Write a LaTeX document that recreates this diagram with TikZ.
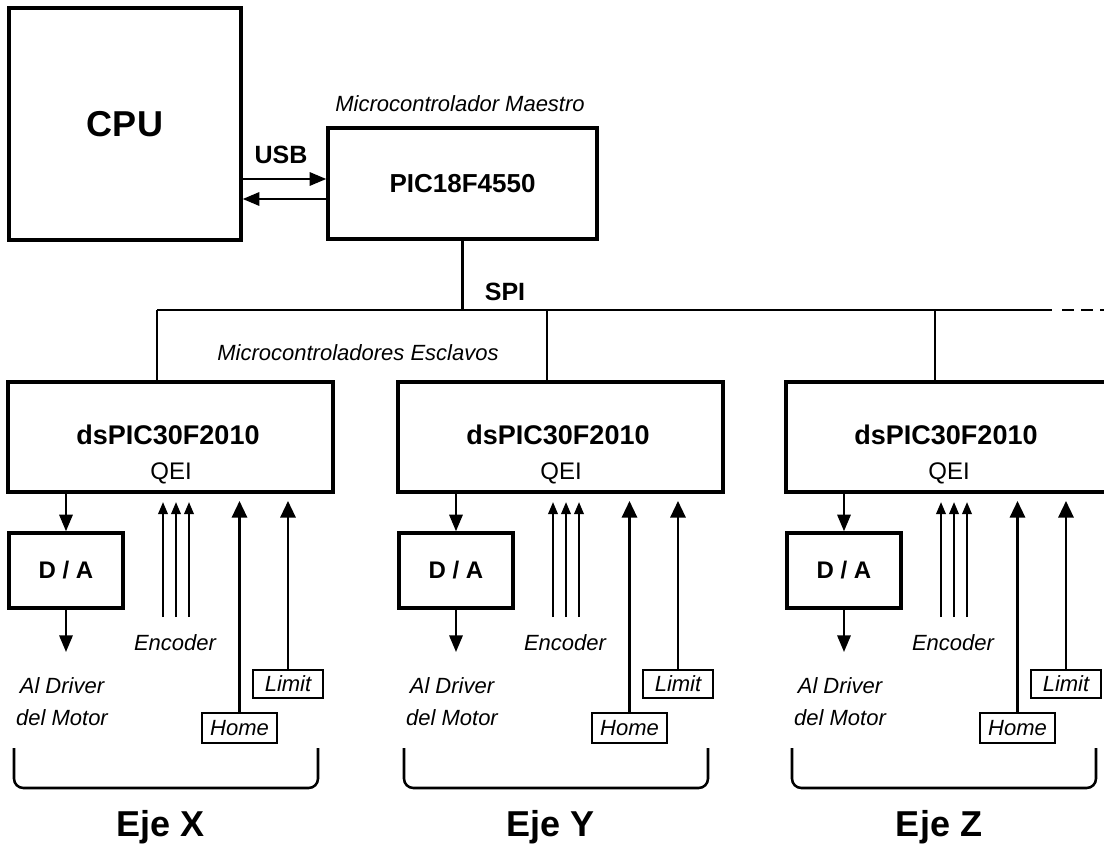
\documentclass[tikz,border=0pt]{standalone}
\usepackage{fontspec}
\setmainfont{Liberation Sans}
\usetikzlibrary{arrows.meta}
\newcommand{\fz}[1]{\fontsize{#1}{#1}\selectfont}
\begin{document}
\begin{tikzpicture}[x=0.75pt,y=-0.75pt,
  box/.style={draw, line width=2.6pt, inner sep=0pt},
  con/.style={line width=1.7pt},
  arr/.style={con, -{Triangle[length=12.5pt,width=10pt]}},
  arrb/.style={con, -{Triangle[length=12.5pt,width=11.5pt]}},
  arrs/.style={con, -{Triangle[length=9pt,width=7pt]}},
  tag/.style={draw, line width=1.6pt, inner sep=0pt, font=\fz{16.5}\itshape},
  ital/.style={font=\fz{16.5}\itshape, inner sep=0pt},
  bold/.style={font=\fz{18.75}\bfseries, inner sep=0pt},
  brace/.style={line width=1.9pt, rounded corners=7pt}]
\useasboundingbox (0,0) rectangle (1104,845);
\clip (0,0) rectangle (1104,845);

% CPU and master
\node[box, minimum width=232*0.75pt, minimum height=232*0.75pt, font=\fz{27}\bfseries] (cpu) at (125,124) {CPU};
\node[box, minimum width=269*0.75pt, minimum height=111*0.75pt, font=\fz{19.5}\bfseries] (pic) at (462.5,183.5) {PIC18F4550};
\node[ital] (mlab) at (460,104) {Microcontrolador Maestro};
\node[bold] (usb) at (281,155) {USB};
\coordinate (u1) at (0,179);
\coordinate (u2) at (0,199);
\draw[arr] (cpu.east |- u1) -- (pic.west |- u1);
\draw[arr] (pic.west |- u2) -- (cpu.east |- u2);

% SPI bus
\coordinate (busL) at (157,310);
\coordinate (busR) at (1052,310);
\coordinate (busD) at (1062,310);
\coordinate (busE) at (1106,310);
\draw[con] (pic.south) -- (pic.south |- busL);
\draw[con] (busL) -- (busR);
\draw[con, dash pattern=on 9pt off 5.25pt] (busD) -- (busE);
\node[bold] (spi) at (505,292) {SPI};
\node[ital] (slab) at (358,353) {Microcontroladores Esclavos};

\foreach \n/\o in {X/0,Y/390,Z/778}{
\begin{scope}[shift={(\o,0)}]
  \node[box, minimum width=325*0.75pt, minimum height=110*0.75pt] (s\n) at (170.5,437) {};
  \node[font=\fz{20.25}\bfseries, inner sep=0pt] (t\n) at (168,435) {dsPIC30F2010};
  \node[font=\fz{18}, inner sep=0pt] (q\n) at (171,473) {QEI};
  \coordinate (b\n) at (157,310);
  \draw[con] (b\n) -- (b\n |- s\n.north);
  % D/A
  \node[box, minimum width=114*0.75pt, minimum height=75*0.75pt, font=\fz{18}\bfseries] (d\n) at (66,570.5) {D / A};
  \draw[arr] (s\n.south -| d\n) -- (d\n.north);
  \coordinate (m\n) at (66,652);
  \draw[arr] (d\n.south) -- (m\n);
  \node[ital, align=center, font=\fontsize{16.5}{24}\selectfont\itshape] (al\n) at (62,702) {Al Driver\\del Motor};
  % encoder
  \node[ital] (enc\n) at (175,643) {Encoder};
  \coordinate (ea\n) at (163,617); \coordinate (eat\n) at (163,502);
  \coordinate (eb\n) at (176,617); \coordinate (ebt\n) at (176,502);
  \coordinate (ec\n) at (189,617); \coordinate (ect\n) at (189,502);
  \draw[arrs] (ea\n) -- (eat\n);
  \draw[arrs] (eb\n) -- (ebt\n);
  \draw[arrs] (ec\n) -- (ect\n);
  % home / limit
  \node[tag, minimum width=75*0.75pt, minimum height=30*0.75pt] (h\n) at (239.5,728) {Home};
  \node[tag, minimum width=70*0.75pt, minimum height=28*0.75pt] (l\n) at (288,684) {Limit};
  \coordinate (ht\n) at (239.5,501);
  \coordinate (lt\n) at (288,501);
  \draw[arrb] (h\n.north) -- (ht\n);
  \draw[arrb] (l\n.north) -- (lt\n);
  % brace
  \draw[brace] (14,748) -- (14,788) -- (318,788) -- (318,748);
  \node[font=\fz{27}\bfseries, inner sep=0pt] (eje\n) at (161,827) {Eje \n};
\end{scope}
}
\end{tikzpicture}
\end{document}
